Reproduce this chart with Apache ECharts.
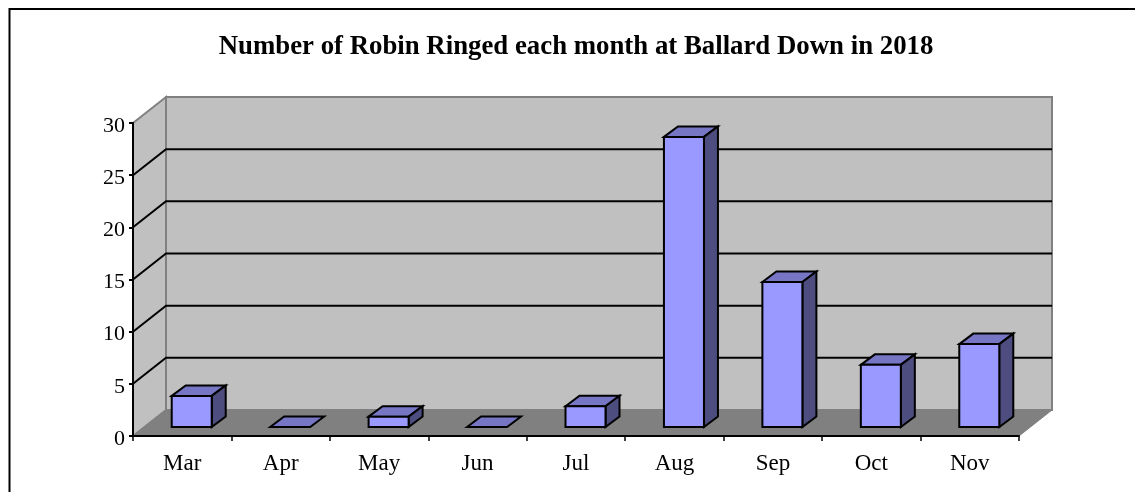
<!DOCTYPE html>
<html>
<head>
<meta charset="utf-8">
<title>Robin Ringed</title>
<script src="https://cdn.jsdelivr.net/npm/echarts@6/dist/echarts.min.js"></script>
<style>
html, body { margin: 0; padding: 0; background: #fff; }
#grafico { width: 1135px; height: 492px; }
</style>
</head>
<body>
<div id="grafico"></div>
<script>
// Datos
var meses = ['Mar', 'Apr', 'May', 'Jun', 'Jul', 'Aug', 'Sep', 'Oct', 'Nov'];
var anillados = [3, 0, 1, 0, 2, 28, 14, 6, 8];
var marcasY = [0, 5, 10, 15, 20, 25, 30];

// Profundidad de la vista 3D, en pixeles
var fondoX = 33, fondoY = -26;    // de la cara frontal a la pared del fondo
var baseX = 11.5, baseY = -9;     // donde arranca la barra dentro del suelo
var barraX = 14, barraY = -10.5;  // profundidad de la barra
var anchoBarra = 40;
var escalaFondo = 0.993;          // las barras estan un poco mas lejos que el eje

function poligono(puntos, relleno, borde, grosor) {
    return {
        type: 'polygon',
        shape: { points: puntos },
        style: { fill: relleno, stroke: borde, lineWidth: grosor, lineJoin: 'miter' }
    };
}

function linea(puntos, color, grosor) {
    return {
        type: 'polyline',
        shape: { points: puntos },
        style: { fill: null, stroke: color, lineWidth: grosor }
    };
}

// Paredes, suelo y lineas de la cuadricula
function dibujarParedes(params, api) {
    var s = params.coordSys;
    var izq = s.x, der = s.x + s.width;
    var abajo = api.coord([0, 0])[1], arriba = api.coord([0, 30])[1];
    var hijos = [
        poligono([[izq + fondoX, arriba + fondoY], [der + fondoX, arriba + fondoY], [der + fondoX, abajo + fondoY], [izq + fondoX, abajo + fondoY]], '#c0c0c0', '#808080', 2),
        poligono([[izq, arriba], [izq + fondoX, arriba + fondoY], [izq + fondoX, abajo + fondoY], [izq, abajo]], '#c0c0c0', '#808080', 2),
        poligono([[izq, abajo], [izq + fondoX, abajo + fondoY], [der + fondoX, abajo + fondoY], [der, abajo]], '#808080', '#808080', 1)
    ];
    marcasY.forEach(function (v) {
        if (v === 0 || v === 30) return;
        var y = api.coord([0, v])[1];
        hijos.push(linea([[izq, y], [izq + fondoX, y + fondoY], [der + fondoX, y + fondoY]], '#000', 2));
    });
    return { type: 'group', children: hijos };
}

// Cada barra: cara frontal, tapa y lateral
function dibujarBarra(params, api) {
    var base = api.coord([api.value(0), 0]);
    var tope = api.coord([api.value(0), api.value(1)]);
    var x0 = base[0] + baseX - anchoBarra / 2 - 2;
    var x1 = x0 + anchoBarra;
    var y0 = base[1] + baseY;
    var y1 = y0 + (tope[1] - base[1]) * escalaFondo;
    var hijos = [];
    hijos.push(poligono([[x0, y1], [x0 + barraX, y1 + barraY], [x1 + barraX, y1 + barraY], [x1, y1]], '#7676c4', '#000', 2));
    if (y0 > y1) {
        hijos.push(poligono([[x1, y1], [x1 + barraX, y1 + barraY], [x1 + barraX, y0 + barraY], [x1, y0]], '#4d4d80', '#000', 2));
        hijos.push(poligono([[x0, y1], [x1, y1], [x1, y0], [x0, y0]], '#9999ff', '#000', 2));
    }
    return { type: 'group', children: hijos };
}

var grafico = echarts.init(document.getElementById('grafico'), null, { renderer: 'canvas' });

grafico.setOption({
    animation: false,
    backgroundColor: '#fff',
    textStyle: { fontFamily: 'Liberation Serif', color: '#000' },
    title: {
        text: 'Number of Robin Ringed each month at Ballard Down in 2018',
        left: 571, top: 29, textAlign: 'center',
        textStyle: { fontFamily: 'Liberation Serif', fontSize: 26.8, fontWeight: 'bold', color: '#000' }
    },
    grid: { left: 133, right: 116, top: 123, bottom: 56 },
    xAxis: {
        type: 'category', data: meses, z: 4,
        axisLine: { lineStyle: { color: '#000', width: 2 } },
        axisTick: { show: true, alignWithLabel: false, length: 5, lineStyle: { color: '#000', width: 1.5 } },
        axisLabel: { fontFamily: 'Liberation Serif', fontSize: 23, color: '#000', margin: 16 },
        splitLine: { show: false }
    },
    yAxis: {
        type: 'value', min: 0, max: 30, interval: 5, z: 4,
        axisLine: { show: true, lineStyle: { color: '#000', width: 2 } },
        axisTick: { show: true, length: 4, lineStyle: { color: '#000', width: 2 } },
        axisLabel: { fontFamily: 'Liberation Serif', fontSize: 22, color: '#000', margin: 8, verticalAlign: 'top', lineHeight: 6 },
        splitLine: { show: false }
    },
    graphic: [{
        type: 'rect', silent: true,
        shape: { x: 9.5, y: 9, width: 1140, height: 520 },
        style: { fill: null, stroke: '#000', lineWidth: 2 }
    }],
    series: [
        { type: 'custom', z: 1, silent: true, clip: false, data: [[0, 0]], renderItem: dibujarParedes },
        { type: 'custom', z: 5, silent: true, clip: false, data: anillados.map(function (v, i) { return [i, v]; }), renderItem: dibujarBarra }
    ]
});
</script>
</body>
</html>
